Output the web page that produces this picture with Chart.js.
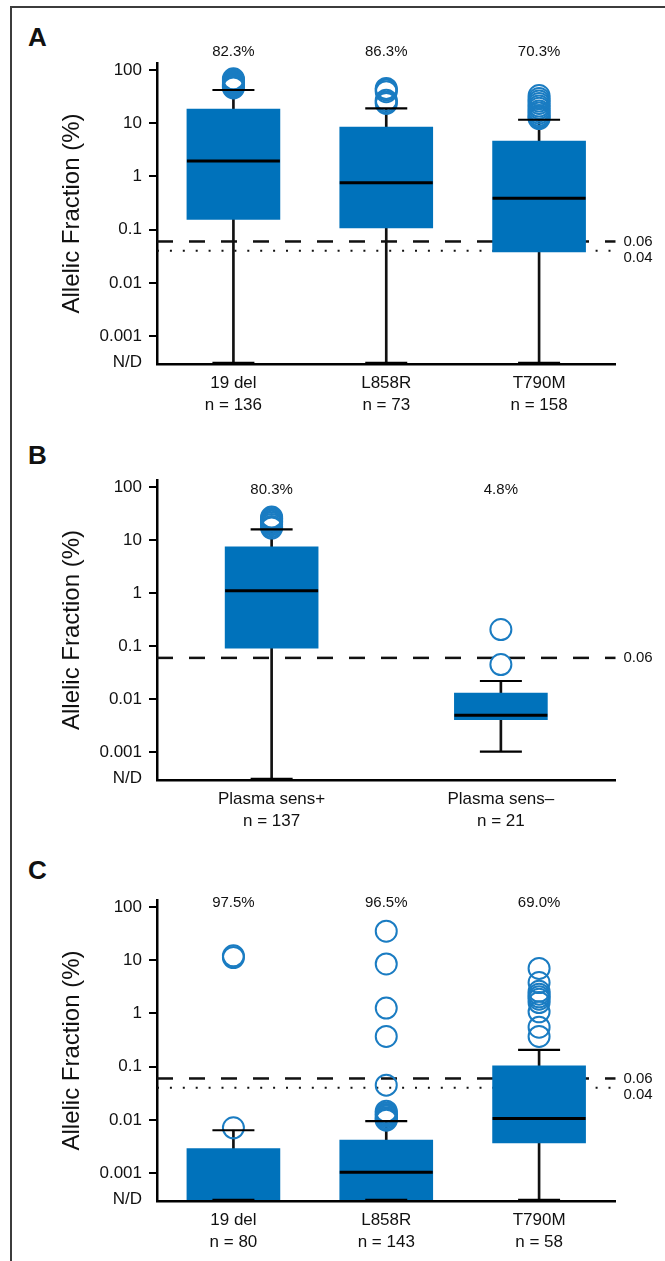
<!DOCTYPE html>
<html>
<head>
<meta charset="utf-8">
<script src="https://cdn.jsdelivr.net/npm/chart.js@4.4.1/dist/chart.umd.min.js"></script>
<style>
  html, body { margin: 0; padding: 0; background: #fff; }
  body { width: 665px; height: 1261px; position: relative; overflow: hidden; }
  .frame { position: absolute; left: 10px; top: 6px; width: 700px; height: 1300px;
           border-left: 2px solid #3c3c3c; border-top: 2px solid #3c3c3c; }
  .panel { position: absolute; left: 0; }
  .letter { position: absolute; left: 28px; font: bold 26px 'Liberation Sans', Arial, sans-serif;
            line-height: 26px; color: #111; }
</style>
</head>
<body>
<div class="frame"></div>
<div class="letter" style="top:24px">A</div>
<div class="letter" style="top:442px">B</div>
<div class="letter" style="top:857px">C</div>
<canvas id="chartA" class="panel" style="top:0" width="665" height="420"></canvas>
<canvas id="chartB" class="panel" style="top:420px" width="665" height="420"></canvas>
<canvas id="chartC" class="panel" style="top:840px" width="665" height="421"></canvas>
<script>
// N/D is plotted half a decade below 0.001
const ND = Math.pow(10, -3.5);
const yTickValues = [ND, 0.001, 0.01, 0.1, 1, 10, 100];
const yTickLabels = ['N/D', '0.001', '0.01', '0.1', '1', '10', '100'];

// panel A
const categoriesA = ['19 del', 'L858R', 'T790M'];
const countsA = ['n = 136', 'n = 73', 'n = 158'];
const detectedA = ['82.3%', '86.3%', '70.3%'];
const q1A = [0.155, 0.108, 0.038];
const medianA = [1.95, 0.76, 0.39];
const q3A = [18.3, 8.4, 4.6];
const whiskerLowA = [ND, ND, ND];
const whiskerHighA = [42, 19, 11.6];
const outliersA = [
  [46, 48, 50, 52, 55, 58, 61, 64, 68],
  [23.5, 25, 27, 39, 42, 45],
  [12.2, 13, 14, 15.5, 17, 19, 21, 23.5, 26, 29, 33]
];
const refValuesA = [0.06, 0.04];
const refLabelsA = ['0.06', '0.04'];

// panel B
const categoriesB = ['Plasma sens+', 'Plasma sens\u2013'];
const countsB = ['n = 137', 'n = 21'];
const detectedB = ['80.3%', '4.8%'];
const q1B = [0.091, 0.0041];
const medianB = [1.1, 0.005];
const q3B = [7.4, 0.013];
const whiskerLowB = [ND, 0.00103];
const whiskerHighB = [15.9, 0.022];
const outliersB = [
  [16.8, 18, 19.5, 21, 22.5, 24, 25.5, 27],
  [0.205, 0.045]
];
const refValuesB = [0.06];
const refLabelsB = ['0.06'];

// panel C
const categoriesC = ['19 del', 'L858R', 'T790M'];
const countsC = ['n = 80', 'n = 143', 'n = 58'];
const detectedC = ['97.5%', '96.5%', '69.0%'];
const q1C = [ND, ND, 0.0037];
const medianC = [ND, 0.00104, 0.0106];
const q3C = [0.0029, 0.0042, 0.104];
const whiskerLowC = [ND, ND, ND];
const whiskerHighC = [0.0064, 0.0095, 0.207];
const outliersC = [
  [0.0071, 11.2, 12.1],
  [35, 8.5, 1.26, 0.37, 0.045, 0.0146, 0.0135, 0.0126, 0.0118, 0.011, 0.0103, 0.0099],
  [7.0, 3.8, 2.6, 2.3, 2.05, 1.85, 1.6, 1.07, 0.55, 0.37]
];
const refValuesC = [0.06, 0.04];
const refLabelsC = ['0.06', '0.04'];

const FONT = "'Liberation Sans', Arial, sans-serif";
const BLUE = '#0072bb';
const RING = '#1a7cc2';
const INK = '#111';

Chart.defaults.font.family = FONT;
Chart.defaults.color = INK;

// line styles for the reference lines, by position in refValues
const refStyles = [
  { dash: [16, 16], width: 2.5, labelDy: 0 },
  { dash: [2, 10.9], width: 2, labelDy: 7 }
];

function overlay(d, pctY) {
  return {
    id: 'overlay',
    beforeDatasetsDraw(chart) {
      const { ctx, chartArea, scales: { y } } = chart;
      d.refs.forEach((v, i) => {
        const py = y.getPixelForValue(v);
        ctx.save();
        ctx.strokeStyle = INK;
        ctx.lineWidth = refStyles[i].width;
        ctx.setLineDash(refStyles[i].dash);
        ctx.beginPath();
        ctx.moveTo(chartArea.left, py);
        ctx.lineTo(chartArea.right, py);
        ctx.stroke();
        ctx.restore();
      });
    },
    afterDraw(chart) {
      const { ctx, chartArea, scales: { x, y } } = chart;
      ctx.save();
      ctx.fillStyle = INK;
      ctx.font = '15px ' + FONT;
      ctx.textBaseline = 'middle';
      ctx.textAlign = 'left';
      d.refs.forEach((v, i) => {
        ctx.fillText(d.refLabels[i], chartArea.right + 8, y.getPixelForValue(v) + refStyles[i].labelDy);
      });
      ctx.textAlign = 'center';
      d.detected.forEach((t, i) => ctx.fillText(t, x.getPixelForValue(i), pctY));
      ctx.restore();
    }
  };
}

function boxPlot(id, d, layout) {
  const outlierPoints = [];
  d.outliers.forEach((list, i) => list.forEach(v => outlierPoints.push({ x: d.categories[i], y: v })));
  // a median sitting on N/D is hidden under the axis
  const medians = d.median.map(v => (v > ND ? v : null));

  const marker = (data, radius, width, order) => ({
    type: 'line', data, showLine: false, pointStyle: 'line', pointRadius: radius,
    pointBorderWidth: width, pointBorderColor: '#000', pointBackgroundColor: '#000',
    order, clip: false
  });

  return new Chart(document.getElementById(id), {
    type: 'bar',
    data: {
      labels: d.categories,
      datasets: [
        { type: 'bar', data: d.categories.map((c, i) => [d.low[i], d.high[i]]),
          backgroundColor: INK, barThickness: 2, grouped: false, order: 5, clip: false },
        { type: 'bar', data: d.categories.map((c, i) => [d.q1[i], d.q3[i]]),
          backgroundColor: BLUE, barThickness: 93, grouped: false, order: 4, clip: false },
        { type: 'line', data: outlierPoints, showLine: false, pointStyle: 'circle',
          pointRadius: 10.5, pointBorderWidth: 2, pointBorderColor: RING,
          pointBackgroundColor: 'rgba(0,0,0,0)', order: 3, clip: false },
        marker(medians, 46.5, 3, 2),
        marker(d.high, 21, 2.2, 1),
        marker(d.low, 21, 2.2, 1)
      ]
    },
    options: {
      responsive: false,
      animation: false,
      events: [],
      layout: { padding: { left: 58, right: 43, top: layout.top, bottom: layout.bottom } },
      plugins: { legend: { display: false }, tooltip: { enabled: false } },
      scales: {
        x: {
          type: 'category',
          offset: true,
          z: 1,
          grid: { display: false, drawTicks: false },
          border: { display: true, color: '#000', width: 2.5 },
          ticks: {
            padding: 9, maxRotation: 0, autoSkip: false, color: INK,
            font: { size: 17, lineHeight: 1.25 },
            callback: (v, i) => [d.categories[i], d.counts[i]]
          },
          afterFit: s => { s.height = 50; }
        },
        y: {
          type: 'logarithmic',
          min: ND,
          max: Math.pow(10, 2.13),
          afterBuildTicks: s => { s.ticks = yTickValues.map(v => ({ value: v })); },
          afterFit: s => { s.width = 99; },
          grid: {
            display: true, drawOnChartArea: false, drawTicks: true, tickLength: 8, lineWidth: 2,
            tickColor: c => (c.index === 0 ? 'rgba(0,0,0,0)' : '#000')
          },
          border: { display: true, color: '#000', width: 2.5 },
          ticks: {
            padding: 7, autoSkip: false, color: INK, font: { size: 17 },
            callback: (v, i) => yTickLabels[i]
          },
          title: {
            display: true, text: 'Allelic Fraction (%)', color: INK, padding: 0,
            font: { size: 24 }
          }
        }
      }
    },
    plugins: [overlay(d, layout.pctY)]
  });
}

boxPlot('chartA', {
  categories: categoriesA, counts: countsA, detected: detectedA,
  q1: q1A, median: medianA, q3: q3A, low: whiskerLowA, high: whiskerHighA,
  outliers: outliersA, refs: refValuesA, refLabels: refLabelsA
}, { top: 63, bottom: 6, pctY: 52 });

boxPlot('chartB', {
  categories: categoriesB, counts: countsB, detected: detectedB,
  q1: q1B, median: medianB, q3: q3B, low: whiskerLowB, high: whiskerHighB,
  outliers: outliersB, refs: refValuesB, refLabels: refLabelsB
}, { top: 60, bottom: 10, pctY: 70 });

boxPlot('chartC', {
  categories: categoriesC, counts: countsC, detected: detectedC,
  q1: q1C, median: medianC, q3: q3C, low: whiskerLowC, high: whiskerHighC,
  outliers: outliersC, refs: refValuesC, refLabels: refLabelsC
}, { top: 60, bottom: 10, pctY: 63 });
</script>
</body>
</html>
